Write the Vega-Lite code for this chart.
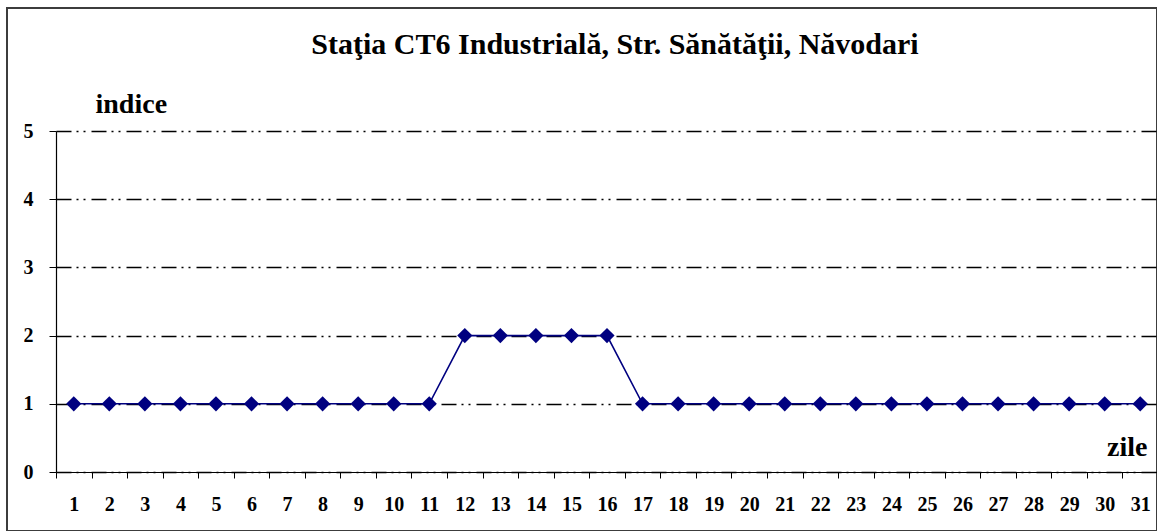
{
  "$schema": "https://vega.github.io/schema/vega-lite/v6.json",
  "width": 1150,
  "height": 523,
  "autosize": {"type": "none"},
  "padding": {"left": 7, "top": 8, "right": 0, "bottom": 0},
  "background": "white",
  "title": {
    "text": "Staţia CT6 Industrială, Str. Sănătăţii, Năvodari",
    "font": "Liberation Serif",
    "fontSize": 30,
    "fontWeight": "bold",
    "color": "black",
    "anchor": "middle",
    "dx": 33,
    "offset": -76,
    "baseline": "alphabetic"
  },
  "data": {
    "values": [
      {"day": 1, "indice": 1}, {"day": 2, "indice": 1}, {"day": 3, "indice": 1},
      {"day": 4, "indice": 1}, {"day": 5, "indice": 1}, {"day": 6, "indice": 1},
      {"day": 7, "indice": 1}, {"day": 8, "indice": 1}, {"day": 9, "indice": 1},
      {"day": 10, "indice": 1}, {"day": 11, "indice": 1}, {"day": 12, "indice": 2},
      {"day": 13, "indice": 2}, {"day": 14, "indice": 2}, {"day": 15, "indice": 2},
      {"day": 16, "indice": 2}, {"day": 17, "indice": 1}, {"day": 18, "indice": 1},
      {"day": 19, "indice": 1}, {"day": 20, "indice": 1}, {"day": 21, "indice": 1},
      {"day": 22, "indice": 1}, {"day": 23, "indice": 1}, {"day": 24, "indice": 1},
      {"day": 25, "indice": 1}, {"day": 26, "indice": 1}, {"day": 27, "indice": 1},
      {"day": 28, "indice": 1}, {"day": 29, "indice": 1}, {"day": 30, "indice": 1},
      {"day": 31, "indice": 1}
    ]
  },
  "mark": {
    "type": "line",
    "color": "#000080",
    "strokeWidth": 1.6,
    "point": {"shape": "diamond", "size": 230, "filled": true, "color": "#000080", "opacity": 1}
  },
  "encoding": {
    "x": {
      "field": "day",
      "type": "ordinal",
      "bandPosition": 0.5,
      "scale": {"type": "band", "paddingInner": 0, "paddingOuter": 0, "range": [49, 1151]},
      "axis": {
        "orient": "bottom",
        "offset": -59,
        "title": "zile",
        "titleFont": "Liberation Serif",
        "titleFontSize": 28,
        "titleFontWeight": "bold",
        "titleColor": "black",
        "titleAlign": "right",
        "titleBaseline": "alphabetic",
        "titleAnchor": null,
        "titleX": 1140,
        "titleY": -17,
        "labelAngle": 0,
        "labelFont": "Liberation Serif",
        "labelFontSize": 20,
        "labelFontWeight": "bold",
        "labelColor": "black",
        "labelPadding": 16,
        "tickBand": "extent",
        "tickColor": "black",
        "tickSize": 6,
        "domainColor": "black",
        "domainWidth": 1.2,
        "grid": false
      }
    },
    "y": {
      "field": "indice",
      "type": "quantitative",
      "scale": {"domain": [0, 5], "range": [464, 123], "nice": false, "zero": false},
      "axis": {
        "orient": "left",
        "offset": -49,
        "values": [0, 1, 2, 3, 4, 5],
        "format": "d",
        "title": "indice",
        "titleFont": "Liberation Serif",
        "titleFontSize": 28,
        "titleFontWeight": "bold",
        "titleColor": "black",
        "titleAngle": 0,
        "titleAlign": "left",
        "titleBaseline": "alphabetic",
        "titleAnchor": null,
        "titleX": 39,
        "titleY": 104,
        "labelFont": "Liberation Serif",
        "labelFontSize": 20,
        "labelFontWeight": "bold",
        "labelColor": "black",
        "labelPadding": 16,
        "tickColor": "black",
        "tickSize": 7,
        "domainColor": "black",
        "domainWidth": 1.2,
        "grid": true,
        "gridColor": "black",
        "gridWidth": 1.4,
        "gridDash": [15, 5, 2, 5, 2, 6],
        "gridOpacity": 1
      }
    }
  },
  "config": {
    "view": {"stroke": "#3c3c3c", "strokeWidth": 2}
  }
}
